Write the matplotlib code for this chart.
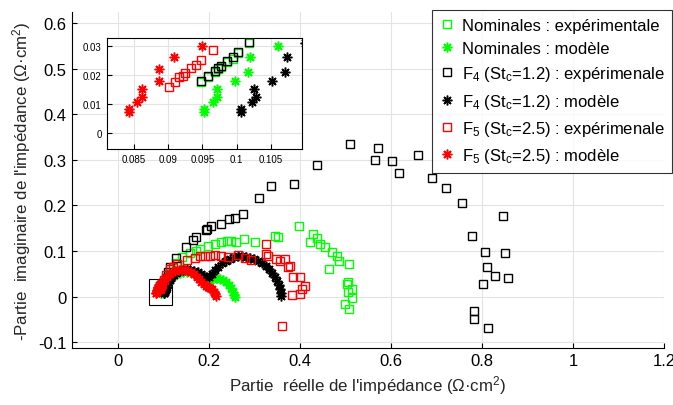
import matplotlib
matplotlib.use("Agg")
import matplotlib.pyplot as plt
from matplotlib.patches import Rectangle

plt.rcParams['font.family'] = ['Liberation Sans', 'DejaVu Sans']
plt.rcParams['mathtext.fontset'] = 'custom'
plt.rcParams['mathtext.rm'] = 'Liberation Sans'
plt.rcParams['mathtext.it'] = 'Liberation Sans'
plt.rcParams['axes.unicode_minus'] = False

# Nominales : expérimentale
nom_exp_x = [0.0948, 0.0958, 0.0968, 0.0973, 0.0977, 0.0986, 0.0995, 0.1002, 0.1018,
             0.106, 0.112, 0.120, 0.128, 0.140, 0.158, 0.172, 0.180, 0.198, 0.212, 0.227,
             0.240, 0.249, 0.260, 0.276, 0.300, 0.345, 0.352, 0.397, 0.421, 0.429, 0.438,
             0.443, 0.454, 0.469, 0.480, 0.486, 0.463, 0.508, 0.506, 0.504, 0.513, 0.505,
             0.513, 0.498, 0.508]
nom_exp_y = [0.0175, 0.0192, 0.0210, 0.0218, 0.0227, 0.0243, 0.0255, 0.0275, 0.0309,
             0.038, 0.050, 0.062, 0.074, 0.086, 0.095, 0.101, 0.104, 0.112, 0.115, 0.119,
             0.122, 0.121, 0.120, 0.126, 0.120, 0.134, 0.130, 0.154, 0.120, 0.137, 0.129,
             0.115, 0.108, 0.098, 0.088, 0.078, 0.060, 0.071, 0.031, 0.028, 0.017, 0.010,
             -0.003, -0.016, -0.027]

# Nominales : modèle
nom_mod_x = [0.0952, 0.0952, 0.0965, 0.0972, 0.0972, 0.0997, 0.1016, 0.1019, 0.106, 0.110,
             0.115, 0.121, 0.128, 0.135, 0.143, 0.151, 0.159, 0.167, 0.174, 0.181, 0.188,
             0.195, 0.202, 0.209, 0.216, 0.223, 0.230, 0.237, 0.243, 0.248, 0.252, 0.255,
             0.256]
nom_mod_y = [0.0082, 0.0073, 0.0105, 0.0123, 0.0151, 0.0180, 0.0211, 0.0260, 0.030, 0.035,
             0.040, 0.045, 0.049, 0.052, 0.054, 0.054, 0.053, 0.050, 0.046, 0.042, 0.038,
             0.036, 0.037, 0.039, 0.040, 0.039, 0.036, 0.031, 0.025, 0.018, 0.011, 0.004,
             0.000]

# F4 (St_c=1.2) : expérimentale
f4_exp_x = [0.0948, 0.0958, 0.0968, 0.0973, 0.0977, 0.0986, 0.0995, 0.1002, 0.1018,
            0.105, 0.110, 0.115, 0.128, 0.149, 0.165, 0.172, 0.194, 0.196, 0.205, 0.227,
            0.244, 0.256, 0.275, 0.310, 0.337, 0.386, 0.438, 0.509, 0.564, 0.571, 0.602,
            0.617, 0.659, 0.690, 0.720, 0.756, 0.778, 0.846, 0.807, 0.851, 0.810, 0.828,
            0.856, 0.801, 0.782, 0.782, 0.813]
f4_exp_y = [0.0180, 0.0197, 0.0214, 0.0222, 0.0231, 0.0247, 0.0260, 0.0279, 0.0312,
            0.040, 0.053, 0.066, 0.084, 0.108, 0.125, 0.131, 0.145, 0.148, 0.155, 0.160,
            0.170, 0.172, 0.181, 0.216, 0.242, 0.247, 0.289, 0.335, 0.300, 0.325, 0.297,
            0.272, 0.310, 0.260, 0.239, 0.206, 0.132, 0.176, 0.097, 0.096, 0.066, 0.046,
            0.041, 0.027, -0.031, -0.048, -0.069]

# F4 (St_c=1.2) : modèle
f4_mod_x = [0.1007, 0.1007, 0.1022, 0.1029, 0.1026, 0.1052, 0.1070, 0.1074, 0.110, 0.113,
            0.117, 0.122, 0.128, 0.135, 0.143, 0.151, 0.159, 0.167, 0.175, 0.182, 0.188,
            0.194, 0.200, 0.206, 0.213, 0.220, 0.228, 0.236, 0.245, 0.254, 0.263, 0.272,
            0.281, 0.290, 0.299, 0.308, 0.316, 0.324, 0.331, 0.338, 0.344, 0.349, 0.353,
            0.356, 0.358, 0.359]
f4_mod_y = [0.0082, 0.0073, 0.0105, 0.0123, 0.0151, 0.0180, 0.0211, 0.0260, 0.031, 0.036,
            0.041, 0.047, 0.052, 0.056, 0.059, 0.060, 0.059, 0.057, 0.054, 0.050, 0.046,
            0.043, 0.044, 0.050, 0.058, 0.066, 0.073, 0.079, 0.083, 0.086, 0.088, 0.088,
            0.087, 0.085, 0.082, 0.078, 0.073, 0.067, 0.060, 0.052, 0.043, 0.034, 0.025,
            0.016, 0.008, 0.001]

# F5 (St_c=2.5) : expérimentale
f5_exp_x = [0.0901, 0.0910, 0.0916, 0.0921, 0.0925, 0.0933, 0.0941, 0.0948, 0.0966,
            0.100, 0.106, 0.114, 0.121, 0.130, 0.152, 0.169, 0.180, 0.191, 0.202, 0.213,
            0.227, 0.242, 0.264, 0.278, 0.293, 0.326, 0.326, 0.330, 0.347, 0.355, 0.366,
            0.374, 0.377, 0.385, 0.399, 0.410, 0.403, 0.399, 0.381, 0.361]
f5_exp_y = [0.0157, 0.0174, 0.0191, 0.0197, 0.0206, 0.0222, 0.0234, 0.0252, 0.0286,
            0.036, 0.048, 0.060, 0.066, 0.071, 0.080, 0.085, 0.088, 0.088, 0.090, 0.091,
            0.088, 0.087, 0.091, 0.084, 0.080, 0.115, 0.093, 0.090, 0.082, 0.079, 0.082,
            0.064, 0.068, 0.042, 0.042, 0.024, 0.017, 0.006, 0.004, -0.064]

# F5 (St_c=2.5) : modèle
f5_mod_x = [0.0842, 0.0842, 0.0855, 0.0862, 0.0862, 0.0886, 0.0886, 0.0909, 0.095, 0.098,
            0.102, 0.107, 0.113, 0.119, 0.126, 0.133, 0.140, 0.147, 0.154, 0.161, 0.167,
            0.173, 0.178, 0.183, 0.188, 0.193, 0.198, 0.203, 0.207, 0.211, 0.214, 0.216]
f5_mod_y = [0.0082, 0.0073, 0.0105, 0.0123, 0.0151, 0.0180, 0.0220, 0.0260, 0.030, 0.034,
            0.039, 0.044, 0.049, 0.053, 0.056, 0.058, 0.059, 0.058, 0.056, 0.053, 0.049,
            0.044, 0.038, 0.032, 0.027, 0.024, 0.022, 0.020, 0.016, 0.011, 0.006, 0.001]

labels = ["Nominales : expérimentale",
          "Nominales : modèle",
          r"F$_4$ (St$_c$=1.2) : expérimenale",
          r"F$_4$ (St$_c$=1.2) : modèle",
          r"F$_5$ (St$_c$=2.5) : expérimenale",
          r"F$_5$ (St$_c$=2.5) : modèle"]

series = [(nom_exp_x, nom_exp_y, 's', '#00ff00'),
          (nom_mod_x, nom_mod_y, (8, 2, 0), '#00ff00'),
          (f4_exp_x, f4_exp_y, 's', 'k'),
          (f4_mod_x, f4_mod_y, (8, 2, 0), 'k'),
          (f5_exp_x, f5_exp_y, 's', '#ff0000'),
          (f5_mod_x, f5_mod_y, (8, 2, 0), '#ff0000')]


def tracer(ax, avec_label):
    for (x, y, m, c), lab in zip(series, labels):
        if m == 's':
            ax.plot(x, y, linestyle='none', marker='s', markersize=5.5, markerfacecolor='none',
                    markeredgecolor=c, markeredgewidth=1.0, label=lab if avec_label else None)
        else:
            ax.plot(x, y, linestyle='none', marker=m, markersize=7, color=c,
                    markeredgewidth=1.1, label=lab if avec_label else None)


def style(ax, taille):
    ax.grid(True, color='#e3e3e3', linewidth=0.8)
    ax.set_axisbelow(True)
    ax.tick_params(direction='in', labelsize=taille, top=False, right=False)


fig = plt.figure(figsize=(6.73, 4.06), dpi=100)
ax = fig.add_axes([0.1065, 0.1411, 0.8805, 0.8269])
tracer(ax, True)
style(ax, 12)
ax.spines['top'].set_visible(False)
ax.spines['right'].set_visible(False)
ax.set_xlim(-0.102, 1.2)
ax.set_ylim(-0.112, 0.624)
ax.set_xticks([0, 0.2, 0.4, 0.6, 0.8, 1, 1.2])
ax.set_xticklabels(['0', '0.2', '0.4', '0.6', '0.8', '1', '1.2'])
ax.set_yticks([-0.1, 0, 0.1, 0.2, 0.3, 0.4, 0.5, 0.6])
ax.set_yticklabels(['-0.1', '0', '0.1', '0.2', '0.3', '0.4', '0.5', '0.6'])
ax.set_xlabel("Partie  réelle de l'impédance (Ω·cm$^2$)", fontsize=12.2, color='#262626')
ax.set_ylabel("-Partie  imaginaire de l'impédance (Ω·cm$^2$)", fontsize=12.2, color='#262626')
ax.add_patch(Rectangle((0.068, -0.018), 0.051, 0.056, fill=False, edgecolor='k', linewidth=0.8))

leg = ax.legend(loc='upper right', bbox_to_anchor=(672 / 673, 1 - 11 / 406),
                bbox_transform=fig.transFigure, fontsize=12, frameon=True, fancybox=False,
                borderpad=0.45, labelspacing=0.5, handletextpad=0.35, handlelength=1.0,
                borderaxespad=0)
leg.get_frame().set_edgecolor('k')
leg.get_frame().set_linewidth(0.8)

# zoom sur les hautes fréquences
axi = fig.add_axes([0.1585, 0.6305, 0.2897, 0.2727])
tracer(axi, False)
style(axi, 7)
axi.set_xlim(0.081, 0.1095)
axi.set_ylim(-0.0055, 0.0325)
axi.set_xticks([0.085, 0.09, 0.095, 0.1, 0.105])
axi.set_xticklabels(['0.085', '0.09', '0.095', '0.1', '0.105'])
axi.set_yticks([0, 0.01, 0.02, 0.03])
axi.set_yticklabels(['0', '0.01', '0.02', '0.03'])

fig.savefig("out.png", dpi=100)
